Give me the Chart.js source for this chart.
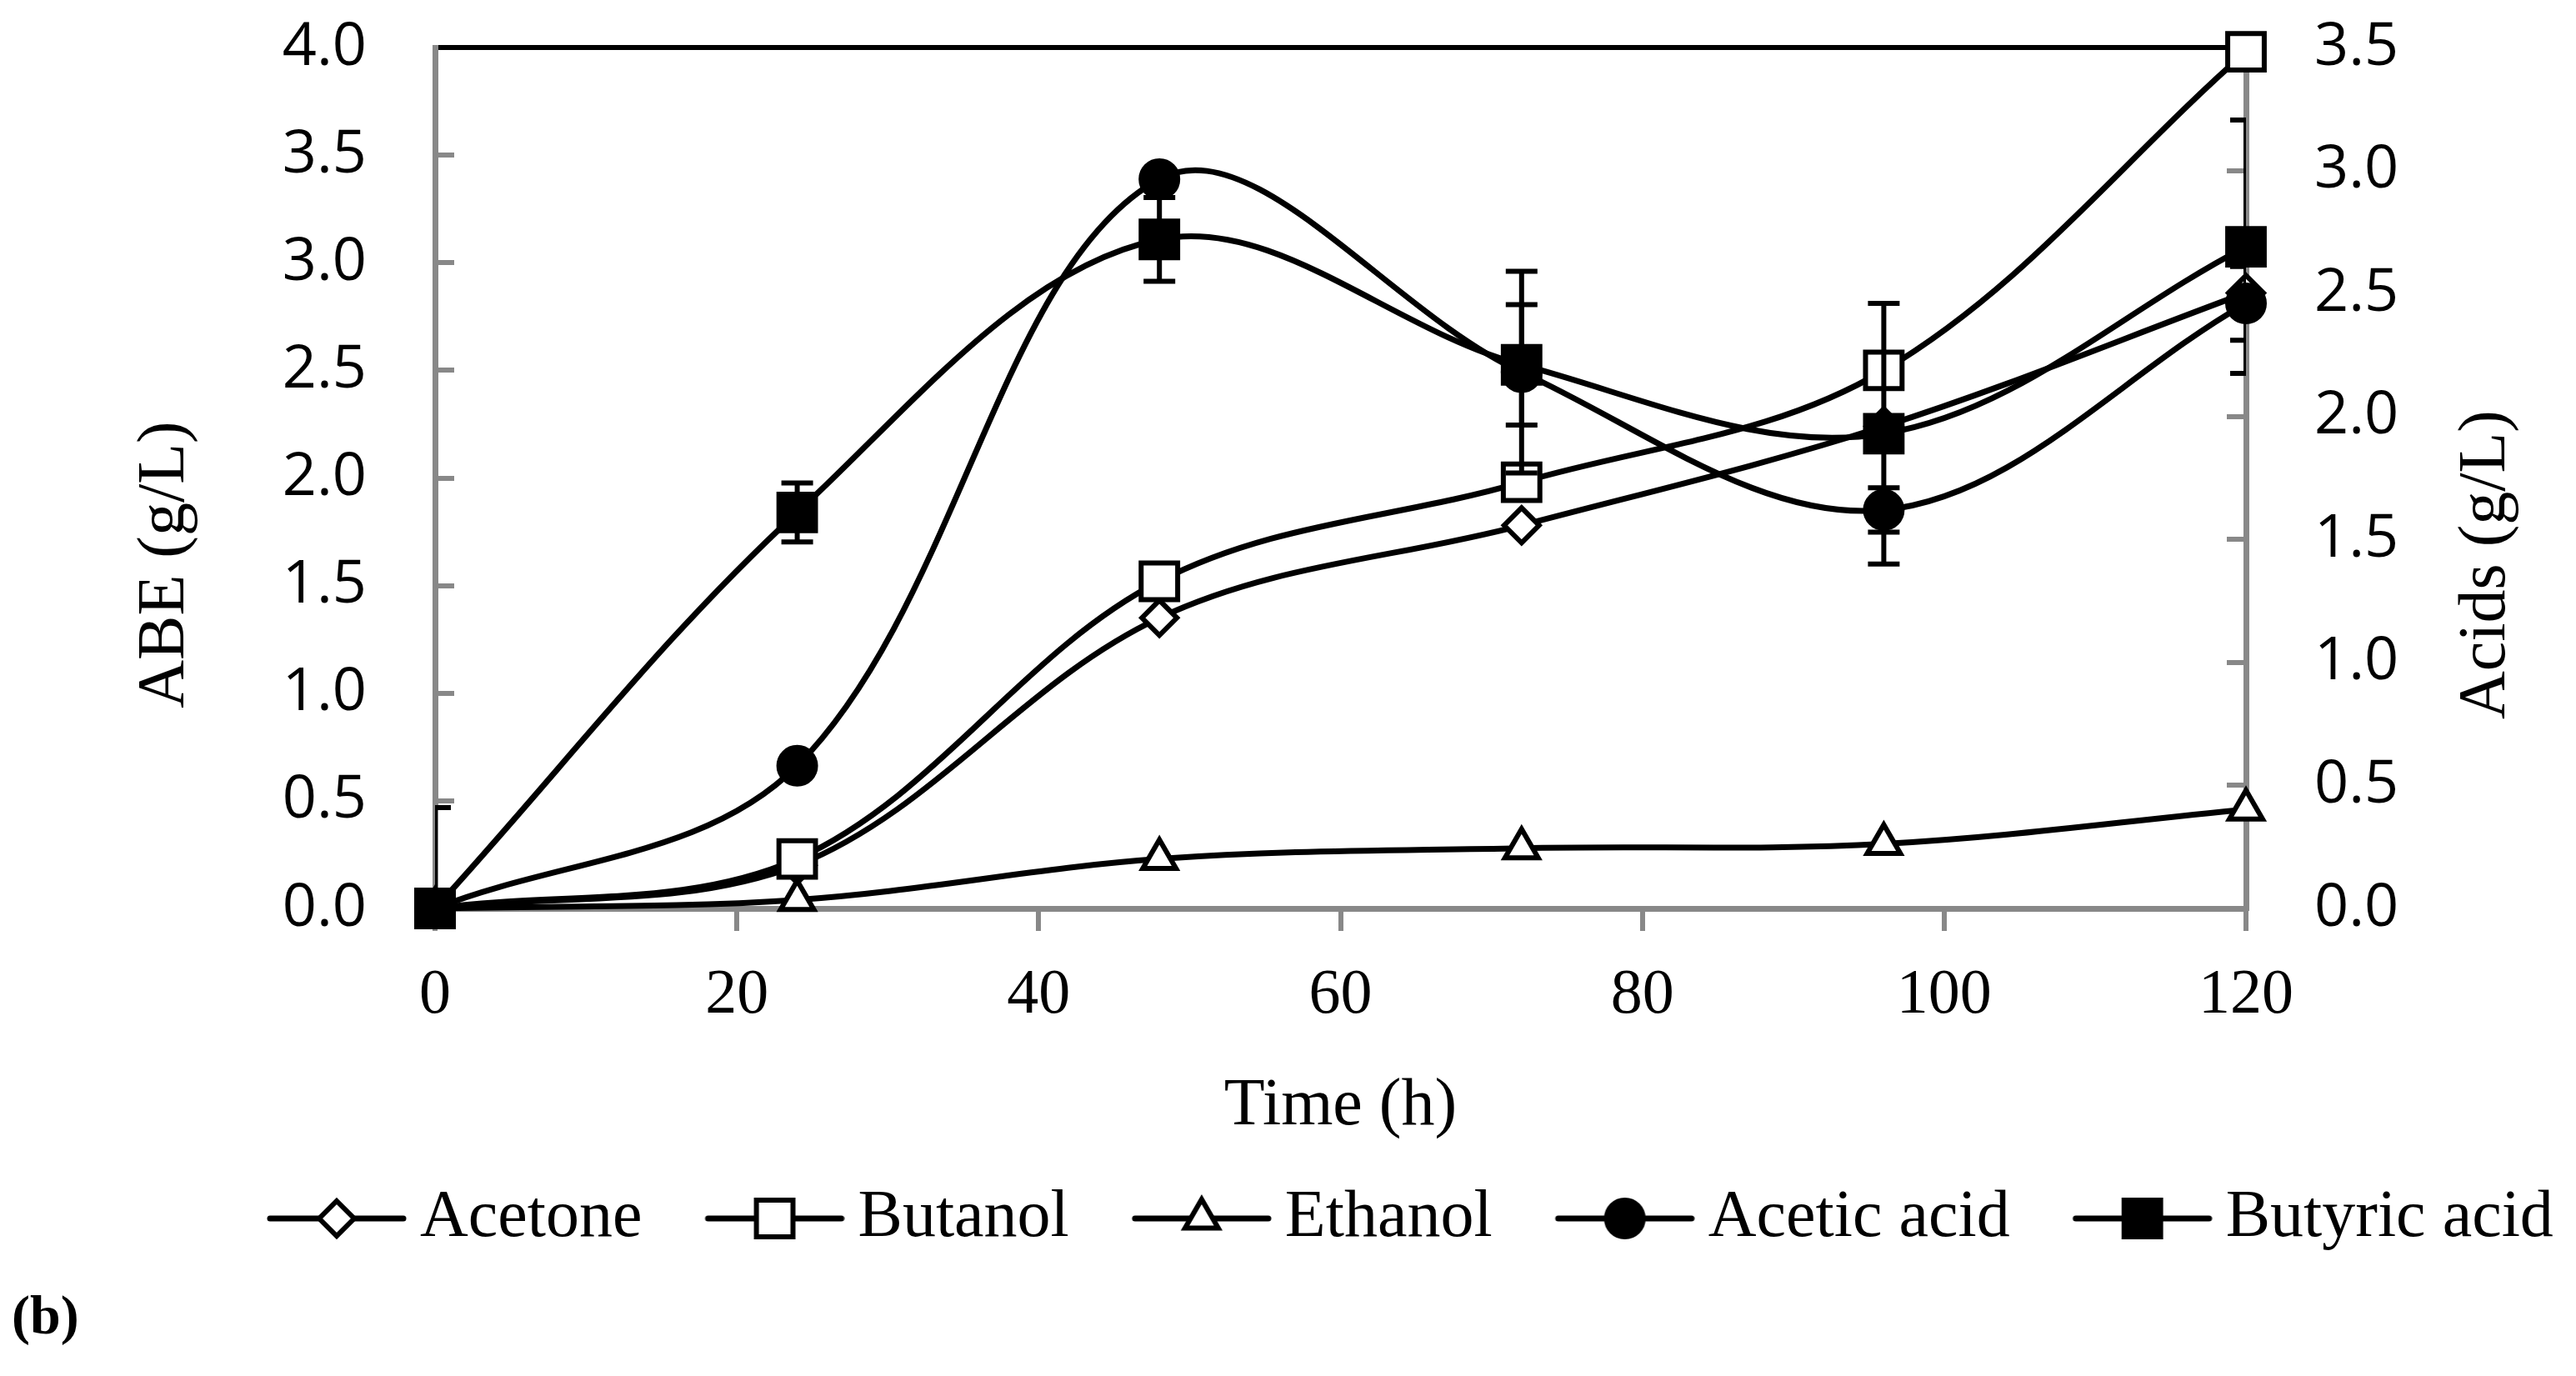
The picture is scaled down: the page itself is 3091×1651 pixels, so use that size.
<!DOCTYPE html>
<html>
<head>
<meta charset="utf-8">
<script src="https://cdn.jsdelivr.net/npm/chart.js@4.4.1/dist/chart.umd.min.js"></script>
<style>
  html, body { margin: 0; padding: 0; background: #fff; }
  #wrap { width: 3091px; height: 1651px; position: relative; }
</style>
</head>
<body>
<div id="wrap"><canvas id="chart"></canvas></div>
<script>
// time points (h)
const hours = [0, 24, 48, 72, 96, 120];

// ABE solvents, g/L (left axis)
const acetone = [0, 0.20, 1.35, 1.78, 2.24, 2.86];
const butanol = [0, 0.23, 1.52, 1.98, 2.50, 3.98];
const ethanol = [0, 0.04, 0.23, 0.28, 0.30, 0.46];

// acids, g/L (right axis)
const aceticAcid = [0, 0.58, 2.965, 2.18, 1.62, 2.46];
const butyricAcid = [0, 1.61, 2.72, 2.21, 1.93, 2.69];
const aceticErr = [0.41, 0, 0, 0.41, 0.09, 0.15];
const butyricErr = [0, 0.12, 0.17, 0.245, 0.53, 0.515];

// tick labels
const timeTicks = [0, 20, 40, 60, 80, 100, 120];
const abeTicks = [0, 0.5, 1.0, 1.5, 2.0, 2.5, 3.0, 3.5, 4.0];
const acidTicks = [0, 0.5, 1.0, 1.5, 2.0, 2.5, 3.0, 3.5];

const serif = '"Liberation Serif", "DejaVu Serif", serif';
const sans = '"Open Sans", "Liberation Sans", sans-serif';
const axisGray = '#888888';

const toPoints = vals => hours.map((h, i) => ({ x: h, y: vals[i] }));

function markerPath(ctx, style, x, y, r) {
  ctx.beginPath();
  if (style === 'rectRot') {
    ctx.moveTo(x, y - r); ctx.lineTo(x + r, y); ctx.lineTo(x, y + r); ctx.lineTo(x - r, y);
  } else if (style === 'rect') {
    const s = r * Math.SQRT2;
    ctx.rect(x - s / 2, y - s / 2, s, s);
  } else if (style === 'triangle') {
    ctx.moveTo(x, y - r); ctx.lineTo(x + 0.866 * r, y + 0.5 * r); ctx.lineTo(x - 0.866 * r, y + 0.5 * r);
  } else {
    ctx.arc(x, y, r, 0, Math.PI * 2);
  }
  ctx.closePath();
}

// legend swatch: line with the marker in the middle, transparent room on the left
function legendSwatch(ds) {
  const c = document.createElement('canvas');
  c.width = 262; c.height = 70;
  const ctx = c.getContext('2d');
  ctx.strokeStyle = '#000';
  ctx.lineWidth = 7;
  ctx.lineCap = 'round';
  ctx.beginPath(); ctx.moveTo(262 - 164, 35); ctx.lineTo(258, 35); ctx.stroke();
  markerPath(ctx, ds.pointStyle, 262 - 84, 35, ds.pointRadius);
  ctx.fillStyle = ds.pointBackgroundColor;
  ctx.fill();
  ctx.lineWidth = ds.pointBorderWidth;
  ctx.lineCap = 'butt';
  ctx.stroke();
  return c;
}

const common = {
  borderColor: '#000',
  borderWidth: 7,
  pointBorderColor: '#000',
  pointBorderWidth: 6,
  tension: 0.35,
  fill: false,
  clip: false
};

const datasets = [
  { ...common, label: 'Acetone', data: toPoints(acetone), yAxisID: 'y', pointStyle: 'rectRot', pointRadius: 21, pointHoverRadius: 21, pointBackgroundColor: '#fff', order: 5 },
  { ...common, label: 'Butanol', data: toPoints(butanol), yAxisID: 'y', pointStyle: 'rect', pointRadius: 31, pointHoverRadius: 31, pointBackgroundColor: '#fff', order: 4 },
  { ...common, label: 'Ethanol', data: toPoints(ethanol), yAxisID: 'y', pointStyle: 'triangle', pointRadius: 23, pointHoverRadius: 23, pointBackgroundColor: '#fff', order: 3 },
  { ...common, label: 'Acetic acid', data: toPoints(aceticAcid), yAxisID: 'y1', pointStyle: 'circle', pointRadius: 22, pointHoverRadius: 22, pointBackgroundColor: '#000', order: 2, errors: aceticErr },
  { ...common, label: 'Butyric acid', data: toPoints(butyricAcid), yAxisID: 'y1', pointStyle: 'rect', pointRadius: 31, pointHoverRadius: 31, pointBackgroundColor: '#000', order: 1, errors: butyricErr }
];

const swatches = datasets.map(legendSwatch);

const errorBars = {
  id: 'errorBars',
  afterDatasetsDraw(chart) {
    const { ctx, chartArea } = chart;
    const xs = chart.scales.x;
    ctx.save();
    ctx.beginPath();
    ctx.rect(chartArea.left, chartArea.top, chartArea.right - chartArea.left, chartArea.bottom - chartArea.top);
    ctx.clip();
    ctx.strokeStyle = '#000';
    ctx.lineWidth = 6;
    chart.data.datasets.forEach(ds => {
      if (!ds.errors) return;
      const ys = chart.scales[ds.yAxisID];
      ds.data.forEach((p, i) => {
        const e = ds.errors[i];
        if (!e) return;
        const x = xs.getPixelForValue(p.x);
        const y1 = ys.getPixelForValue(p.y + e);
        const y2 = ys.getPixelForValue(p.y - e);
        ctx.beginPath();
        ctx.moveTo(x, y1); ctx.lineTo(x, y2);
        ctx.moveTo(x - 19, y1); ctx.lineTo(x + 19, y1);
        ctx.moveTo(x - 19, y2); ctx.lineTo(x + 19, y2);
        ctx.stroke();
      });
    });
    ctx.restore();
  }
};

const sideTitles = {
  id: 'sideTitles',
  afterDraw(chart) {
    const { ctx, chartArea } = chart;
    const midY = (chartArea.top + chartArea.bottom) / 2 + 104;
    ctx.save();
    ctx.fillStyle = '#000';
    ctx.font = '80px ' + serif;
    ctx.textAlign = 'center';
    ctx.textBaseline = 'alphabetic';
    [[chartArea.left - 302, 'ABE (g/L)'], [chartArea.right + 310, 'Acids (g/L)']].forEach(([x, t]) => {
      ctx.save();
      ctx.translate(x, midY);
      ctx.rotate(-Math.PI / 2);
      ctx.fillText(t, 0, 0);
      ctx.restore();
    });
    ctx.font = 'bold 66px ' + serif;
    ctx.textAlign = 'left';
    ctx.fillText('(b)', 14, 1600);
    ctx.restore();
  }
};

// scale boxes get fixed sizes and no extra label padding, so the plot area
// lands where the reference has it
const noPad = s => { s.paddingTop = 0; s.paddingBottom = 0; s.paddingLeft = 0; s.paddingRight = 0; };

const yAxis = (pos, max, ticks, width) => ({
  type: 'linear',
  position: pos,
  min: 0,
  max: max,
  afterBuildTicks: s => { s.ticks = ticks.map(v => ({ value: v })); },
  afterFit: s => { s.width = width; noPad(s); },
  border: { display: true, color: axisGray, width: 7 },
  grid: { drawOnChartArea: false, drawTicks: true, tickLength: -23, color: axisGray, lineWidth: 6 },
  ticks: { color: '#000', font: { family: sans, size: 72 }, padding: 105, autoSkip: false, callback: v => v.toFixed(1) }
});

new Chart(document.getElementById('chart'), {
  type: 'line',
  data: { datasets },
  options: {
    responsive: true,
    maintainAspectRatio: false,
    devicePixelRatio: 1,
    animation: false,
    layout: { padding: { left: 245, top: 57, right: 0, bottom: 139 } },
    scales: {
      x: {
        type: 'linear',
        position: 'bottom',
        min: 0,
        max: 120,
        afterBuildTicks: s => { s.ticks = timeTicks.map(v => ({ value: v })); },
        afterFit: s => { s.height = 327; noPad(s); },
        border: { display: true, color: axisGray, width: 7 },
        grid: { drawOnChartArea: false, drawTicks: true, tickLength: 27, color: axisGray, lineWidth: 6 },
        ticks: { color: '#000', font: { family: serif, size: 76 }, padding: 32, maxRotation: 0, autoSkip: false },
        title: { display: true, text: 'Time (h)', color: '#000', font: { family: serif, size: 80 }, padding: { top: 0, bottom: 41 } }
      },
      xTop: {
        type: 'linear',
        position: 'top',
        min: 0,
        max: 120,
        afterFit: s => { s.height = 0; noPad(s); },
        border: { display: true, color: '#000', width: 6 },
        grid: { display: false, drawTicks: false },
        ticks: { display: false }
      },
      y: yAxis('left', 4, abeTicks, 277),
      y1: yAxis('right', 3.5, acidTicks, 396)
    },
    plugins: {
      tooltip: { enabled: false },
      legend: {
        position: 'bottom',
        align: 'start',
        labels: {
          usePointStyle: true,
          pointStyleWidth: 214,
          padding: 5,
          color: '#000',
          font: { family: serif, size: 80 },
          generateLabels: chart => chart.data.datasets.map((ds, i) => ({
            text: ds.label,
            pointStyle: swatches[i],
            datasetIndex: i,
            hidden: false,
            fontColor: '#000',
            lineWidth: 0,
            strokeStyle: 'rgba(0,0,0,0)',
            fillStyle: 'rgba(0,0,0,0)'
          }))
        }
      }
    }
  },
  plugins: [errorBars, sideTitles]
});
</script>
</body>
</html>
